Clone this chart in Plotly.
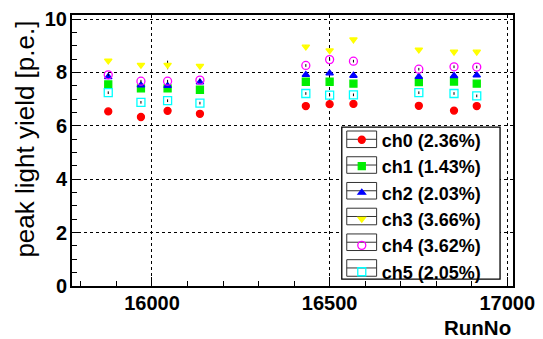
import plotly.graph_objects as go

run_no = [15877, 15969, 16044, 16135, 16433, 16500, 16567, 16751, 16850, 16914]

ch0 = [6.54, 6.33, 6.56, 6.45, 6.74, 6.81, 6.82, 6.75, 6.57, 6.74]
ch1 = [7.55, 7.40, 7.40, 7.35, 7.65, 7.65, 7.58, 7.64, 7.66, 7.58]
ch2 = [7.83, 7.52, 7.50, 7.63, 7.91, 7.97, 7.88, 7.84, 7.87, 7.89]
ch3 = [8.44, 8.28, 8.28, 8.24, 8.96, 8.82, 9.23, 8.85, 8.77, 8.77]
ch4 = [7.91, 7.67, 7.67, 7.71, 8.26, 8.48, 8.42, 8.12, 8.21, 8.20]
ch5 = [7.24, 6.88, 6.94, 6.85, 7.21, 7.15, 7.16, 7.24, 7.21, 7.12]

err0 = [0.05] * 10
err1 = [0.05] * 10
err2 = [0.05] * 10
err3 = [0.06, 0.06, 0.16, 0.06, 0.06, 0.06, 0.06, 0.06, 0.06, 0.06]
err4 = [0.05] * 10
err5 = [0.05] * 10

names = ["ch0 (2.36%)", "ch1 (1.43%)", "ch2 (2.03%)",
         "ch3 (3.66%)", "ch4 (3.62%)", "ch5 (2.05%)"]
series = [ch0, ch1, ch2, ch3, ch4, ch5]
errors = [err0, err1, err2, err3, err4, err5]
colors = ["#ff0000", "#00ee00", "#0000ff", "#ffff00", "#ff00ff", "#00ffff"]
symbols = ["circle", "square", "triangle-up", "triangle-down", "circle-open", "square-open"]
sizes = [7, 7, 6.5, 6.5, 8, 8]

x_tickvals = [16000, 16500, 17000]
x_ticktext = ["16000", "16500", "17000"]
y_tickvals = [0, 2, 4, 6, 8, 10]
y_ticktext = ["0", "2", "4", "6", "8", "10"]

# plot area in pixels (layout helpers)
W, H = 543, 339
L, R, T, B = 72, 28, 8, 53
PW, PH = W - L - R, H - T - B


def px_x(px):
    return (px - L) / PW


def px_y(py):
    return (H - B - py) / PH


fig = go.Figure()
for name, ys, er, col, sym, sz in zip(names, series, errors, colors, symbols, sizes):
    fig.add_trace(go.Scatter(
        x=run_no, y=ys, mode="markers", name=name,
        marker=dict(color=col, symbol=sym, size=sz,
                    line=dict(color=col, width=1.3)),
        error_y=dict(type="data", array=er, color="black", thickness=1, width=0),
    ))

font_family = "Liberation Sans, Arial, Helvetica, sans-serif"

LEG_FONT = 18
item_h = LEG_FONT * 1.3 + 3
first_c = 135.5
leg_top = first_c - 5 - item_h / 2

# legend frame and entry boxes (ROOT TLegend look)
shapes = [dict(type="rect", xref="paper", yref="paper",
               x0=px_x(343), x1=px_x(502), y0=px_y(279), y1=px_y(123),
               fillcolor="white", line=dict(color="black", width=1.3), layer="above")]
for k in range(len(names)):
    c = first_c + item_h * k
    shapes.append(dict(type="rect", xref="paper", yref="paper",
                       x0=px_x(348), x1=px_x(378), y0=px_y(c + 8.5), y1=px_y(c - 8.5),
                       line=dict(color="#333333", width=1), layer="above"))
    shapes.append(dict(type="line", xref="paper", yref="paper",
                       x0=px_x(348), x1=px_x(378), y0=px_y(c), y1=px_y(c),
                       line=dict(color="#333333", width=1), layer="above"))

fig.update_layout(
    width=W, height=H,
    margin=dict(l=L, r=R, t=T, b=B),
    paper_bgcolor="white", plot_bgcolor="white",
    font=dict(family=font_family, color="black"),
    showlegend=True,
    legend=dict(
        x=px_x(343), y=px_y(leg_top), xanchor="left", yanchor="top",
        borderwidth=0, bgcolor="rgba(0,0,0,0)",
        font=dict(size=LEG_FONT, weight="bold", family=font_family),
        itemsizing="trace", tracegroupgap=0,
    ),
    shapes=shapes,
    xaxis=dict(
        range=[15775, 17016], tickvals=x_tickvals, ticktext=x_ticktext,
        ticks="inside", ticklen=9, tickcolor="black", tickwidth=1,
        showline=True, linecolor="black", linewidth=2, mirror=True,
        showgrid=True, gridcolor="black", griddash="dot", gridwidth=1,
        zeroline=False, ticklabelstandoff=-2,
        tickfont=dict(size=20, weight="bold", family=font_family),
        minor=dict(dtick=100, tick0=16000, ticks="inside", ticklen=5,
                   tickcolor="black", showgrid=False),
    ),
    yaxis=dict(
        range=[0, 10.15], tickvals=y_tickvals, ticktext=y_ticktext,
        ticks="inside", ticklen=9, tickcolor="black", tickwidth=1,
        showline=True, linecolor="black", linewidth=2, mirror=True,
        showgrid=True, gridcolor="black", griddash="dot", gridwidth=1,
        zeroline=False, ticklabelstandoff=-1,
        tickfont=dict(size=20, weight="bold", family=font_family),
        minor=dict(dtick=0.5, tick0=0, ticks="inside", ticklen=5,
                   tickcolor="black", showgrid=False),
    ),
    annotations=[
        dict(text="RunNo", xref="paper", yref="paper", x=1.0, y=px_y(329),
             xanchor="right", yanchor="middle", showarrow=False,
             font=dict(size=20.5, weight="bold", family=font_family)),
        dict(text="peak light yield [p.e.]", xref="paper", yref="paper",
             x=px_x(25), y=px_y(12), xanchor="center", yanchor="top",
             textangle=-90, showarrow=False,
             font=dict(size=26, family=font_family)),
    ],
)

fig.write_html("out.html")
